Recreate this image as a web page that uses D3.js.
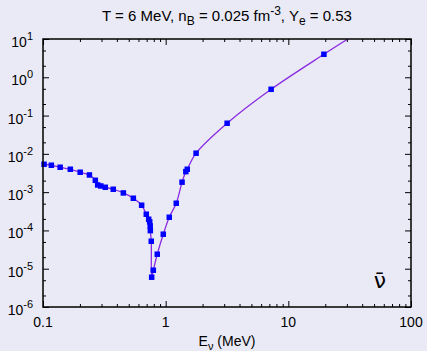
<!DOCTYPE html>
<html>
<head>
<meta charset="utf-8">
<script src="https://cdn.jsdelivr.net/npm/d3@7"></script>
<style>
  html, body { margin: 0; padding: 0; background: #eaeaf6; }
  svg { display: block; }
  text { font-family: "Liberation Sans", Arial, Helvetica, sans-serif; fill: #000; }
</style>
</head>
<body>
<svg id="chart" width="427" height="351"></svg>
<script>
// Antineutrino rate vs. energy (points) with the smooth model curve through them
const energy = [0.102, 0.117, 0.138, 0.167, 0.201, 0.239, 0.267, 0.279, 0.296, 0.322,
                0.374, 0.452, 0.545, 0.637, 0.695, 0.727, 0.741, 0.748, 0.750, 0.763,
                0.769, 0.793, 0.854, 0.956, 1.07, 1.22, 1.36, 1.46, 1.50, 1.77,
                3.17, 7.24, 19.5];
const rate = [5.35e-3, 5.04e-3, 4.47e-3, 3.96e-3, 3.31e-3, 2.81e-3, 2.04e-3, 1.54e-3, 1.45e-3, 1.34e-3,
              1.19e-3, 9.53e-4, 6.93e-4, 4.55e-4, 2.65e-4, 1.96e-4, 1.67e-4, 1.31e-4, 9.88e-5, 5.22e-5,
              6.0e-6, 9.14e-6, 2.39e-5, 7.96e-5, 2.21e-4, 5.13e-4, 1.82e-3, 3.43e-3, 3.96e-3, 1.04e-2,
              6.30e-2, 0.486, 3.99];
// the curve keeps going past the last point and leaves through the top of the frame
const tailEnergy = [31];
const tailRate = [10.3];

const xTickValues = [0.1, 1, 10, 100];
const xTickLabels = ["0.1", "1", "10", "100"];
const yTickValues = [1e-6, 1e-5, 1e-4, 1e-3, 1e-2, 1e-1, 1e0, 1e1];
const yTickExponents = ["-6", "-5", "-4", "-3", "-2", "-1", "0", "1"];

const svg = d3.select("#chart");
const box = { left: 43, right: 411, top: 39, bottom: 307 };

const x = d3.scaleLog().domain([0.1, 100]).range([box.left, box.right]);
const y = d3.scaleLog().domain([1e-6, 10]).range([box.bottom, box.top]);

// minor ticks: 2..9 on the energy axis, 2 and 5 on the rate axis
const xMinor = [];
[0.1, 1, 10].forEach(d => { for (let k = 2; k <= 9; k++) xMinor.push(d * k); });
const yMinor = [];
yTickValues.slice(0, -1).forEach(d => { yMinor.push(d * 2, d * 5); });

function ticks(axisFn, scale, values, size, transform) {
  const g = svg.append("g").attr("transform", transform)
    .call(axisFn(scale).tickValues(values).tickSize(-size).tickFormat(""));
  g.select(".domain").remove();
  g.selectAll(".tick line").attr("stroke", "#000").attr("stroke-width", 1);
}
ticks(d3.axisBottom, x, xTickValues, 6, `translate(0,${box.bottom})`);
ticks(d3.axisBottom, x, xMinor, 3, `translate(0,${box.bottom})`);
ticks(d3.axisTop, x, xTickValues, 6, `translate(0,${box.top})`);
ticks(d3.axisTop, x, xMinor, 3, `translate(0,${box.top})`);
ticks(d3.axisLeft, y, yTickValues, 6, `translate(${box.left},0)`);
ticks(d3.axisLeft, y, yMinor, 3, `translate(${box.left},0)`);
ticks(d3.axisRight, y, yTickValues, 6, `translate(${box.right},0)`);
ticks(d3.axisRight, y, yMinor, 3, `translate(${box.right},0)`);

// clip for the curve
svg.append("clipPath").attr("id", "plotClip")
  .append("rect").attr("x", box.left).attr("y", box.top)
  .attr("width", box.right - box.left).attr("height", box.bottom - box.top);

const curvePts = energy.map((e, i) => [e, rate[i]])
  .concat(tailEnergy.map((e, i) => [e, tailRate[i]]));

const line = d3.line()
  .x(d => x(d[0]))
  .y(d => y(d[1]))
  .curve(d3.curveCatmullRom.alpha(0.5));

svg.append("path")
  .datum(curvePts)
  .attr("clip-path", "url(#plotClip)")
  .attr("fill", "none")
  .attr("stroke", "#8a2be2")
  .attr("stroke-width", 1.3)
  .attr("d", line);

const ms = 5.5;
svg.append("g").selectAll("rect")
  .data(energy.map((e, i) => [e, rate[i]]))
  .join("rect")
  .attr("x", d => x(d[0]) - ms / 2)
  .attr("y", d => y(d[1]) - ms / 2)
  .attr("width", ms).attr("height", ms)
  .attr("fill", "#0000ff");

// frame
svg.append("rect")
  .attr("x", box.left).attr("y", box.top)
  .attr("width", box.right - box.left).attr("height", box.bottom - box.top)
  .attr("fill", "none").attr("stroke", "#000").attr("stroke-width", 1.5);

// x tick labels
svg.append("g").selectAll("text")
  .data(xTickValues)
  .join("text")
  .attr("x", d => x(d))
  .attr("y", 327)
  .attr("text-anchor", "middle")
  .attr("font-size", 14)
  .text((d, i) => xTickLabels[i]);

// y tick labels as powers of ten
const yl = svg.append("g").selectAll("text")
  .data(yTickValues)
  .join("text")
  .attr("x", 33)
  .attr("y", d => y(d) + 8)
  .attr("text-anchor", "end")
  .attr("font-size", 14);
yl.append("tspan").text("10");
yl.append("tspan").attr("dy", -7).attr("font-size", 11).text((d, i) => yTickExponents[i]);

// title
const title = svg.append("text")
  .attr("x", (box.left + box.right) / 2)
  .attr("y", 21)
  .attr("text-anchor", "middle")
  .attr("font-size", 15);
title.append("tspan").text("T = 6 MeV, n");
title.append("tspan").attr("dy", 4).attr("font-size", 12).text("B");
title.append("tspan").attr("dy", -4).text(" = 0.025 fm");
title.append("tspan").attr("dy", -6).attr("font-size", 12).text("-3");
title.append("tspan").attr("dy", 6).text(", Y");
title.append("tspan").attr("dy", 4).attr("font-size", 12).text("e");
title.append("tspan").attr("dy", -4).text(" = 0.53");

// x axis title
const xt = svg.append("text")
  .attr("x", (box.left + box.right) / 2)
  .attr("y", 346)
  .attr("text-anchor", "middle")
  .attr("font-size", 14);
xt.append("tspan").text("E");
xt.append("tspan").attr("dy", 4).attr("font-size", 11).text("ν");
xt.append("tspan").attr("dy", -4).text(" (MeV)");

// particle label
svg.append("text")
  .attr("x", 380)
  .attr("y", 288)
  .attr("text-anchor", "middle")
  .attr("font-size", 22)
  .style("font-family", "'DejaVu Sans', sans-serif")
  .text("ν\u0304");
</script>
</body>
</html>
